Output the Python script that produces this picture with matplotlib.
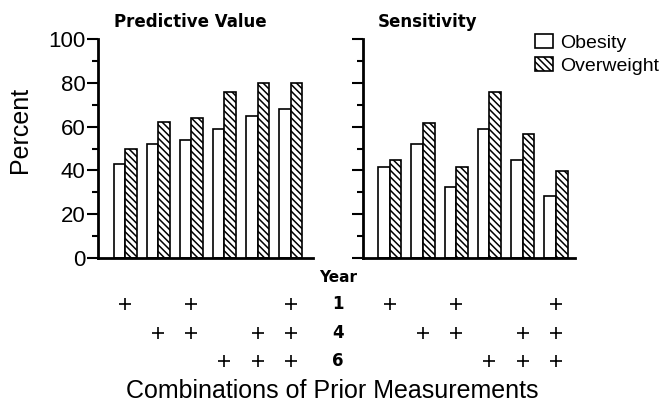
import numpy as np
import matplotlib
matplotlib.use('Agg')
import matplotlib.pyplot as plt
import matplotlib.transforms as mtransforms
from matplotlib.patches import Patch

# values
groups = np.arange(6)
pv_obesity = [43, 52, 54, 59, 65, 68]
pv_overweight = [50, 62, 64, 76, 80, 80]
sens_obesity = [41.5, 52, 32.5, 58.7, 44.7, 28.5]
sens_overweight = [44.7, 61.8, 41.5, 75.8, 56.5, 39.5]

# which prior measurements are in each combination
years = ['1', '4', '6']
year1 = [1, 0, 1, 0, 0, 1]
year4 = [0, 1, 1, 0, 1, 1]
year6 = [0, 0, 0, 1, 1, 1]

plt.rcParams['font.family'] = ['Liberation Sans', 'DejaVu Sans']
plt.rcParams['hatch.linewidth'] = 1.1

fig = plt.figure(figsize=(6.6, 4.04), dpi=100)
W, H = 660.0, 404.0
ax1 = fig.add_axes([98 / W, 1 - 258 / H, 215 / W, 219 / H])
ax2 = fig.add_axes([363 / W, 1 - 258 / H, 212 / W, 219 / H])

bw = 0.35
hatch = '\\' * 5


def draw_panel(ax, obes, over, title, xlim):
    ax.bar(groups - bw / 2, obes, bw, color='white', edgecolor='black', linewidth=1.2)
    ax.bar(groups + bw / 2, over, bw, color='white', edgecolor='black', linewidth=1.2,
           hatch=hatch)
    ax.set_xlim(*xlim)
    ax.set_ylim(0, 100)
    for s in ['top', 'right']:
        ax.spines[s].set_visible(False)
    ax.spines['left'].set_linewidth(2)
    ax.spines['bottom'].set_linewidth(2)
    ax.set_xticks([])
    ax.set_yticks(np.arange(0, 101, 20))
    ax.set_yticks(np.arange(10, 100, 20), minor=True)
    ax.tick_params(axis='y', which='major', length=8, width=1.5, labelsize=16, pad=1)
    ax.tick_params(axis='y', which='minor', length=4, width=1.5)
    trans = mtransforms.blended_transform_factory(ax.transData, ax.transAxes)
    ax.text(-bw, 1.078, title, transform=trans, ha='left', va='center',
            fontsize=12, fontweight='bold', family='DejaVu Sans')


draw_panel(ax1, pv_obesity, pv_overweight, 'Predictive Value', (-0.83, 5.68))
draw_panel(ax2, sens_obesity, sens_overweight, 'Sensitivity', (-0.80, 5.57))
ax2.tick_params(axis='y', labelleft=False)

# combination markers under each panel
row_y = [1 - 304 / H, 1 - 333 / H, 1 - 361 / H]
for ax in (ax1, ax2):
    tr = mtransforms.blended_transform_factory(ax.transData, fig.transFigure)
    for flags, yy in zip([year1, year4, year6], row_y):
        xs = [g for g, f in zip(groups, flags) if f]
        ax.plot(xs, [yy] * len(xs), linestyle='none', marker='+', markersize=8,
                mew=1.2, color='black', transform=tr, clip_on=False)

fig.text(338 / W, 1 - 278 / H, 'Year', ha='center', va='center', fontsize=11,
         fontweight='bold', family='DejaVu Sans')
for lab, yy in zip(years, row_y):
    fig.text(338 / W, yy, lab, ha='center', va='center', fontsize=12,
             fontweight='bold', family='DejaVu Sans')

fig.text(20 / W, 1 - 130 / H, 'Percent', rotation=90, ha='center', va='center',
         fontsize=18)
fig.text(332 / W, 1 - 391 / H, 'Combinations of Prior Measurements', ha='center',
         va='center', fontsize=18)

handles = [Patch(facecolor='white', edgecolor='black', linewidth=1.2),
           Patch(facecolor='white', edgecolor='black', linewidth=1.2, hatch=hatch)]
fig.legend(handles, ['Obesity', 'Overweight'], loc='upper left',
           bbox_to_anchor=(535 / W, 1 - 34 / H), frameon=False, fontsize=14,
           borderpad=0, borderaxespad=0, handlelength=0.93, handleheight=0.75,
           handletextpad=0.35, labelspacing=0.25)

fig.savefig('out.png', dpi=100)
